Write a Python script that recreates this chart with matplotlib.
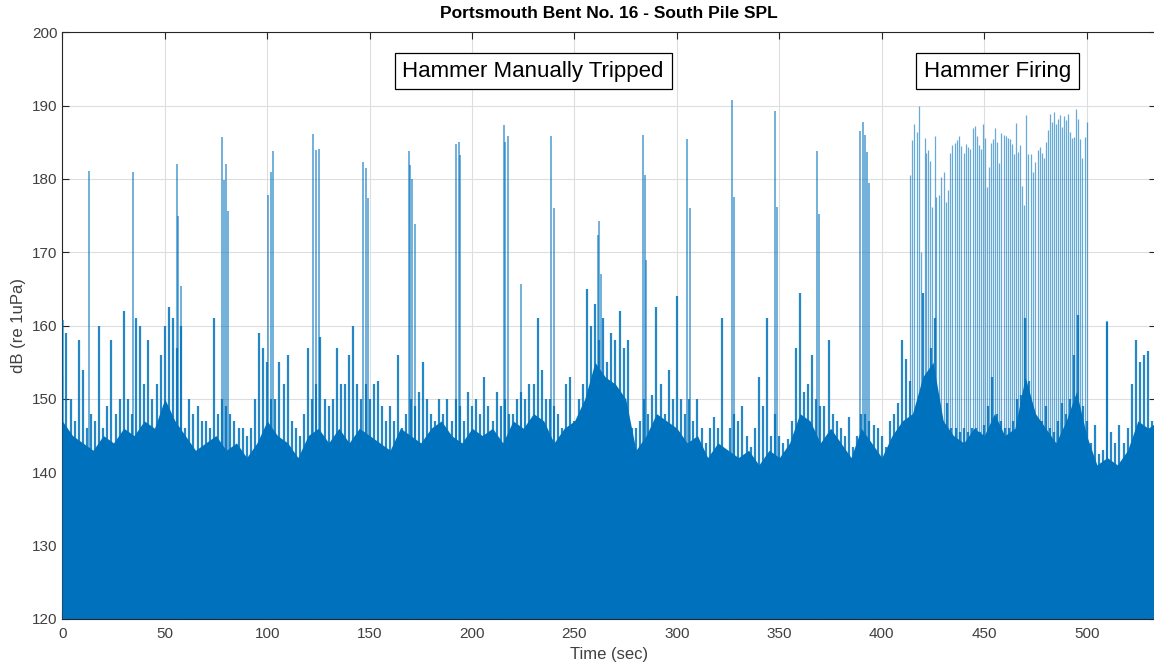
import numpy as np
import matplotlib
matplotlib.use("Agg")
import matplotlib.pyplot as plt

plt.rcParams['font.family'] = ['Liberation Sans', 'DejaVu Sans']

# Solid (dense) part of the trace, top level in dB every 5 s
base_t = np.arange(0, 540, 5)
base_db = [147, 145, 144, 143, 145, 144, 146, 145, 147, 146,
           150, 147, 145, 143, 144, 145, 143, 144, 142, 144,
           147, 145, 144, 142, 145, 146, 144, 146, 144, 146,
           145, 144, 143, 146, 145, 144, 146, 147, 145, 144,
           146, 145, 146, 144, 147, 146, 148, 147, 144, 146,
           147, 150, 155, 153, 152, 150, 143, 145, 148, 147,
           146, 144, 145, 142, 144, 143, 142, 143, 141, 143,
           142, 144, 148, 147, 144, 146, 144, 142, 146, 144,
           142, 145, 147, 148, 153, 155, 147, 145, 144, 146,
           145, 148, 145, 146, 153, 148, 146, 144, 147, 151,
           145, 141, 142, 141, 143, 147, 146, 147]

# Noisy upper edge of the trace, dB every 2 s
noise_t = np.arange(0, 536, 2)
noise_db = [153, 159, 150, 147, 158, 154, 146, 148, 147, 160,
            146, 149, 158, 148, 150, 162, 150, 148, 161, 160,
            152, 158, 150, 152, 156, 160, 162.5, 161, 157, 160,
            146, 150, 148, 149, 147, 147, 146, 161, 148, 150,
            149, 148, 147, 146, 146, 145, 146, 150, 159, 157,
            155, 150, 150, 155, 152, 156, 147, 146, 145, 148,
            157, 150, 152, 158.5, 150, 149, 150, 157, 152, 152,
            156, 160, 152, 150, 152, 150, 152, 152.5, 149, 147,
            149, 147, 156, 146, 148, 150, 149, 151, 155, 150,
            148, 147, 150, 148, 150, 147, 150, 149, 147, 151,
            149, 150, 148, 153, 149, 147, 151, 149, 150, 148,
            148, 150, 151, 150, 152, 152, 161, 154, 150, 150,
            149, 148, 146, 152, 153, 147, 150, 152, 165, 160,
            163, 158, 161, 155, 159, 158, 162, 157, 158, 146,
            146, 147, 150, 148, 150.5, 162.5, 152, 148, 154, 150,
            164, 150, 148, 150, 147, 150, 146, 144, 146, 147.5,
            146, 161, 143, 146, 148, 147, 149, 145, 143.5, 146,
            153, 149, 161, 145, 148, 145, 144, 144.5, 147, 157,
            164.5, 151, 152, 156, 150, 149, 149, 158, 148, 147,
            146, 145, 147.5, 143.5, 145, 148, 148, 147, 146.5, 146,
            145, 143.5, 147, 148, 149.5, 158, 155.5, 152.5, 148, 147,
            164.5, 152.5, 157, 161, 150, 147, 149.5, 146, 146, 145.5,
            146, 145.5, 146, 146, 145.5, 146.5, 149, 153, 148, 147,
            146, 146, 147, 150, 150.5, 161, 152.5, 148, 146, 147,
            149, 146, 145.5, 147, 149.5, 148, 150, 156, 161.5, 149,
            147, 144, 146.5, 142.5, 143, 160.5, 145.5, 144, 146.5, 144,
            146, 152, 158, 155, 156, 156.5, 147, 150]

# Manual trips and other isolated peaks
spike_t = [0.3, 13.0, 34.7, 56.0, 56.7, 58.0, 77.9, 78.7, 80.0, 80.8,
           100.3, 101.8, 102.8, 122.6, 123.6, 125.1, 147.0, 148.2, 149.0,
           169.1, 169.9, 170.7, 172.0, 192.3, 193.5, 194.3, 215.5, 216.3,
           217.4, 224.0, 238.6, 239.9, 261.4, 262.0, 262.7, 283.5, 284.2,
           285.0, 305.0, 306.2, 326.7, 327.9, 347.7, 348.7, 368.4, 369.2,
           389.5, 390.6, 391.6, 392.7, 393.7, 510.1]
spike_db = [160.7, 181.1, 181.0, 182.0, 175.0, 165.4, 185.7, 179.9, 182.0, 175.6,
            177.8, 181.0, 183.8, 186.1, 184.0, 184.1, 182.3, 181.5, 177.4,
            183.8, 181.9, 180.0, 173.8, 184.8, 185.1, 183.2, 187.3, 185.1,
            185.8, 165.7, 185.8, 176.1, 172.3, 174.3, 167.0, 186.0, 180.6,
            168.9, 185.4, 176.1, 190.8, 177.6, 189.2, 176.2, 183.8, 175.2,
            186.5, 187.8, 186.0, 183.7, 179.4, 160.6]

# Hammer firing strikes
strike_t = [413.6, 414.7, 415.8, 417.1, 418.1, 419.2, 420.9, 421.7, 422.5, 423.6,
            424.6, 425.8, 426.7, 427.7, 429.0, 430.2, 431.3, 432.3, 433.4, 434.4,
            435.5, 436.7, 437.8, 438.9, 440.1, 441.1, 442.2, 443.2, 444.5, 445.5,
            446.4, 447.4, 448.4, 449.4, 450.2, 451.3, 452.5, 453.4, 454.4, 455.5,
            456.4, 457.3, 458.3, 459.5, 460.6, 461.6, 462.5, 463.5, 464.5, 465.6,
            466.6, 467.6, 468.6, 469.5, 470.5, 471.5, 472.6, 473.8, 474.9, 476.1,
            477.0, 478.2, 479.1, 480.0, 480.9, 481.9, 482.9, 483.9, 484.8, 485.8,
            486.8, 487.8, 488.8, 489.7, 490.7, 491.7, 492.7, 493.8, 494.9, 495.9,
            496.9, 497.9, 499.0, 500.0]
strike_db = [180.5, 185.3, 187.5, 186.4, 190.0, 170.1, 185.6, 183.5, 183.9, 182.5,
             176.2, 185.8, 177.6, 177.8, 180.3, 181.0, 176.9, 178.5, 183.5, 184.6,
             184.9, 185.3, 185.8, 184.5, 183.5, 184.8, 184.3, 184.1, 186.9, 187.2,
             185.8, 184.6, 184.1, 187.5, 185.6, 178.9, 181.6, 184.9, 185.5, 186.9,
             185.1, 182.2, 186.2, 186.0, 185.8, 185.6, 185.4, 184.8, 183.4, 187.6,
             183.7, 184.6, 179.1, 176.4, 188.7, 183.4, 183.4, 181.0, 182.3, 183.9,
             184.3, 183.5, 182.8, 185.1, 186.7, 188.9, 187.8, 189.1, 187.5, 188.2,
             188.7, 187.1, 188.6, 188.0, 188.9, 186.4, 185.6, 185.7, 189.6, 188.2,
             185.5, 182.8, 185.7, 187.8]

blue = '#0072BD'
dark = '#262626'

fig = plt.figure(figsize=(11.54, 6.72), dpi=100)
ax = fig.add_axes([0.054, 0.079, 0.948, 0.873])

ax.fill_between(base_t, 120, base_db, color=blue, lw=0, zorder=2)
ax.vlines(noise_t, 120, noise_db, color=blue, lw=1.6, alpha=0.85, zorder=2)
ax.vlines(spike_t, 120, spike_db, color=blue, lw=1.1, alpha=0.7, zorder=3)
ax.vlines(strike_t, 120, strike_db, color=blue, lw=0.9, alpha=0.6, zorder=3)

ax.set_xlim(0, 534)
ax.set_ylim(120, 200)
ax.set_xticks(range(0, 501, 50))
ax.set_yticks(range(120, 201, 10))
ax.grid(True, color='#dedede', lw=0.8)
ax.set_axisbelow(True)
ax.tick_params(direction='in', top=True, right=True, length=5, width=0.8,
               color=dark, labelcolor='#404040', labelsize=11)
ax.tick_params(axis='x', pad=6)
for s in ax.spines.values():
    s.set_color(dark)
    s.set_linewidth(0.8)

ax.set_title('Portsmouth Bent No. 16 - South Pile SPL', fontsize=12.5,
             fontweight='bold', color='black', pad=10)
ax.set_xlabel('Time (sec)', fontsize=12, color='#404040', labelpad=4)
ax.set_ylabel('dB (re 1uPa)', fontsize=12, color='#404040', labelpad=4)

box = dict(boxstyle='square,pad=0.35', facecolor='white', edgecolor='black', lw=0.9)
ax.text(229.8, 194.7, 'Hammer Manually Tripped', fontsize=16, ha='center',
        va='center', bbox=box, zorder=5)
ax.text(456.4, 194.7, 'Hammer Firing', fontsize=16, ha='center',
        va='center', bbox=box, zorder=5)

fig.savefig('out.png', dpi=100)
